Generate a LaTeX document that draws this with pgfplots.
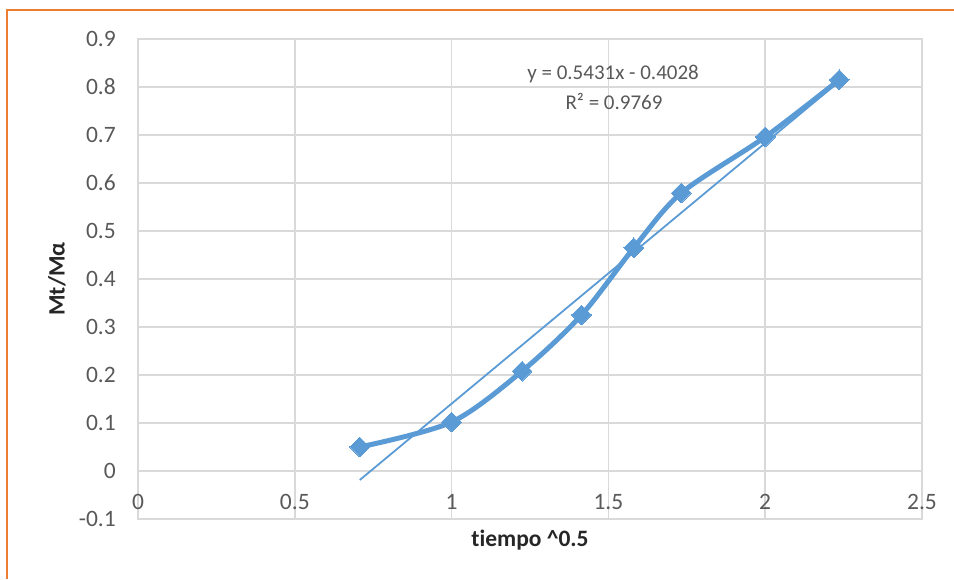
\documentclass[border=0pt]{standalone}
\usepackage{pgfplots}
\pgfplotsset{compat=1.18}
\usepackage{fontspec}
\setmainfont{Carlito}[Ligatures=NoCommon]
\definecolor{xlblue}{HTML}{5B9BD5}
\definecolor{xlorange}{HTML}{ED7D31}
\definecolor{gridgray}{HTML}{D9D9D9}
\definecolor{txtgray}{HTML}{595959}
\begin{document}
\begin{tikzpicture}[x=1pt,y=1pt]
\path[use as bounding box] (0,0) rectangle (954,579);
\draw[xlorange, line width=2pt] (7,0) -- (7,569) -- (954,569);
\begin{axis}[
  at={(138pt,60pt)}, anchor=south west,
  scale only axis, width=784pt, height=480pt,
  xmin=0, xmax=2.5, ymin=-0.1, ymax=0.9,
  xtick={0,0.5,1,1.5,2,2.5},
  ytick={-0.1,0,0.1,0.2,0.3,0.4,0.5,0.6,0.7,0.8,0.9},
  major tick length=0pt,
  grid=major,
  grid style={gridgray, line width=1.5pt},
  axis line style={gridgray, line width=1.5pt},
  /pgf/number format/assume math mode=true,
  ticklabel style={font=\fontsize{23.5}{28}\selectfont, text=txtgray, inner sep=0pt},
  yticklabel style={anchor=east, xshift=-22pt},
  xticklabel style={anchor=center, yshift=17pt},
  xlabel={tiempo \textasciicircum0.5},
  ylabel={Mt/Mα},
  xlabel style={at={(axis description cs:0.5,-0.04375)}, anchor=center, font=\fontsize{23.5}{28}\selectfont\bfseries, text=black!85},
  ylabel style={at={(axis description cs:-0.1033,0.5)}, anchor=center, rotate=0, font=\fontsize{23.5}{28}\selectfont\bfseries, text=black!85},
]
\addplot[xlblue, line width=5pt, smooth, mark=square*, mark size=7pt, mark options={rotate=45, fill=xlblue, draw=xlblue, line width=0pt}]
coordinates {
(0.7071,0.050) (1.0000,0.102) (1.2247,0.208) (1.4142,0.325)
(1.5811,0.465) (1.7321,0.579) (2.0000,0.696) (2.2361,0.815)
};
\addplot[xlblue, line width=1.8pt] coordinates {(0.7071,-0.0188) (2.2361,0.8116)};
\node[font=\fontsize{21}{25}\selectfont, text=txtgray, inner sep=0pt] at (axis cs:1.515,0.827) {y = 0.5431x - 0.4028};
\node[font=\fontsize{21}{25}\selectfont, text=txtgray, inner sep=0pt] at (axis cs:1.518,0.769) {R² = 0.9769};
\end{axis}
\end{tikzpicture}
\end{document}
